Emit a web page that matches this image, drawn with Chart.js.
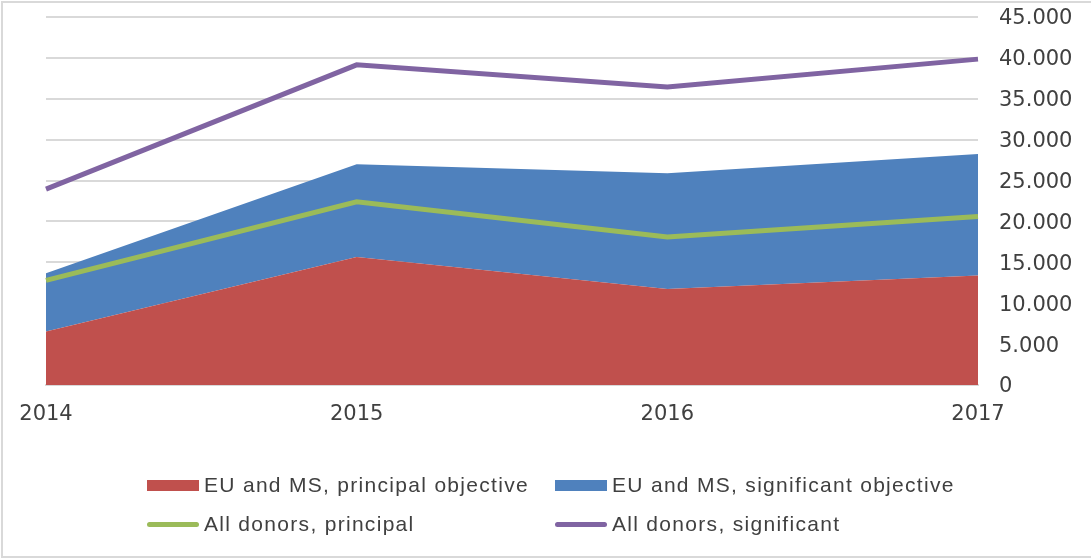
<!DOCTYPE html>
<html>
<head>
<meta charset="utf-8">
<script src="https://cdn.jsdelivr.net/npm/chart.js@4/dist/chart.umd.min.js"></script>
<style>
    html, body { margin: 0; padding: 0; background: #fff; }
    #wrap { position: relative; width: 1091px; height: 558px; overflow: hidden; }
    #frame { position: absolute; left: 1px; top: 1px; width: 1100px; height: 553px; border: 2px solid #d9d9d9; }
    #chart { position: absolute; left: 0; top: 0; }
    .item { position: absolute; display: flex; align-items: center; height: 30px;
        font-family: 'Liberation Sans', Arial, sans-serif; font-size: 21px; letter-spacing: 1.3px; color: #404040; white-space: nowrap; }
    .mark { width: 52px; margin-right: 5px; }
</style>
</head>
<body>
<div id="wrap">
    <div id="frame"></div>
    <canvas id="chart" width="1091" height="558"></canvas>
    <div id="legend"></div>
</div>
<script>
// data
const years = ['2014', '2015', '2016', '2017'];
const euPrincipal = [6550, 15650, 11750, 13400];
const euSignificant = [7100, 11350, 14150, 14850];
const allPrincipal = [12800, 22400, 18100, 20600];
const allSignificant = [23950, 39150, 36450, 39850];
const seriesNames = [
    'EU and MS, principal objective',
    'EU and MS, significant objective',
    'All donors, principal',
    'All donors, significant',
];

// styles
const colors = ['#c0504d', '#4f81bd', '#9bbb59', '#8064a2'];
const gridColor = '#d9d9d9';
const tickFont = { family: "'DejaVu Sans', Verdana, sans-serif", size: 21 };

const fmt = v => v.toString().replace(/\B(?=(\d{3})+(?!\d))/g, '.');

new Chart(document.getElementById('chart'), {
    type: 'line',
    data: {
        labels: years,
        datasets: [
            { label: seriesNames[0], data: euPrincipal, stack: 'eu', order: 2, fill: 'origin',
              backgroundColor: colors[0], borderColor: colors[0], borderWidth: 0, pointRadius: 0 },
            { label: seriesNames[1], data: euSignificant, stack: 'eu', order: 2, fill: '-1',
              backgroundColor: colors[1], borderColor: colors[1], borderWidth: 0, pointRadius: 0 },
            { label: seriesNames[2], data: allPrincipal, stack: 'p', order: 1, fill: false,
              borderColor: colors[2], borderWidth: 5, pointRadius: 0 },
            { label: seriesNames[3], data: allSignificant, stack: 's', order: 1, fill: false,
              borderColor: colors[3], borderWidth: 5, pointRadius: 0 },
        ],
    },
    options: {
        responsive: false,
        animation: false,
        layout: { padding: { left: 46, top: 17, right: 0, bottom: 133 } },
        scales: {
            x: {
                offset: false,
                grid: { display: false, drawTicks: false },
                border: { display: true, color: gridColor, width: 2 },
                ticks: { color: '#404040', font: tickFont, padding: 17, maxRotation: 0 },
                afterFit: s => { s.height = 40; },
            },
            y: {
                position: 'right',
                stacked: true,
                min: 0,
                max: 45000,
                // invisible tick marks push the labels away from the plot
                grid: { color: gridColor, lineWidth: 2, drawTicks: true, tickLength: 18, tickColor: 'rgba(0,0,0,0)' },
                border: { display: false },
                ticks: { stepSize: 5000, color: '#404040', font: tickFont, padding: 3, labelOffset: 2, callback: v => fmt(v) },
                afterFit: s => { s.width = 113; },
            },
        },
        plugins: {
            legend: { display: false },
            tooltip: { enabled: false },
        },
    },
});

// legend laid out like the original two-column box
const legend = document.getElementById('legend');
const cols = [147, 555];
const rows = [470, 509];
seriesNames.forEach((name, i) => {
    const item = document.createElement('div');
    item.className = 'item';
    item.style.left = cols[i % 2] + 'px';
    item.style.top = rows[Math.floor(i / 2)] + 'px';
    const mark = document.createElement('div');
    mark.className = 'mark';
    mark.style.background = colors[i];
    if (i < 2) {
        mark.style.height = '11px';
    } else {
        mark.style.height = '5px';
        mark.style.borderRadius = '3px';
    }
    const txt = document.createElement('span');
    txt.textContent = name;
    item.appendChild(mark);
    item.appendChild(txt);
    legend.appendChild(item);
});
</script>
</body>
</html>
